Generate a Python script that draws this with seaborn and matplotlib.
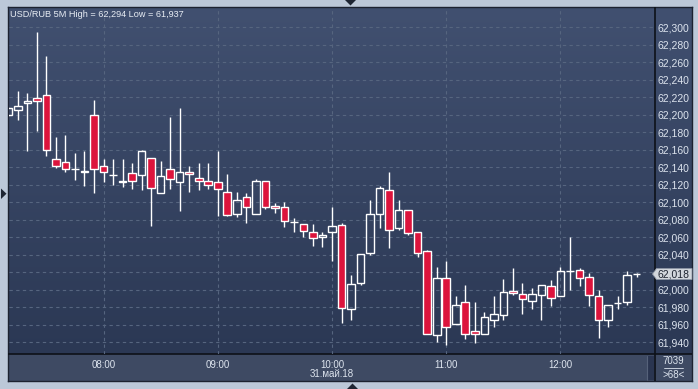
import numpy as np
import pandas as pd
import matplotlib
matplotlib.use("Agg")
import matplotlib.pyplot as plt
import seaborn as sns
from matplotlib.patches import Rectangle, Polygon
from matplotlib.colors import LinearSegmentedColormap

# ---------------- data (USD/RUB, 5-minute candles, 31 May 2018) ----------------
start_time = "2018-05-31 07:10"
open_ = [62.199, 62.205, 62.213, 62.219, 62.222, 62.149, 62.146, 62.138, 62.134, 62.199,
         62.141, 62.131, 62.123, 62.133, 62.131, 62.150, 62.111, 62.138, 62.123, 62.135,
         62.128, 62.124, 62.123, 62.112, 62.086, 62.106, 62.087, 62.124, 62.096, 62.094,
         62.077, 62.075, 62.066, 62.060, 62.066, 62.074, 61.978, 62.008, 62.042, 62.087,
         62.114, 62.070, 62.091, 62.066, 62.044, 61.948, 62.013, 61.961, 61.986, 61.953,
         61.949, 61.966, 61.971, 61.999, 61.995, 61.987, 61.994, 62.004, 61.993, 62.022,
         62.023, 62.015, 61.993, 61.965, 61.985, 61.986, 62.018]
high = [62.209, 62.227, 62.225, 62.294, 62.267, 62.174, 62.177, 62.156, 62.158, 62.217,
        62.149, 62.149, 62.149, 62.145, 62.160, 62.150, 62.147, 62.197, 62.208, 62.141,
        62.145, 62.145, 62.158, 62.132, 62.112, 62.110, 62.127, 62.124, 62.099, 62.100,
        62.082, 62.075, 62.075, 62.066, 62.095, 62.076, 62.017, 62.041, 62.103, 62.119,
        62.135, 62.103, 62.091, 62.066, 62.045, 62.026, 62.033, 61.993, 62.006, 61.986,
        61.975, 61.993, 62.012, 62.025, 62.008, 62.002, 62.006, 62.011, 62.026, 62.060,
        62.025, 62.019, 62.000, 61.983, 61.993, 62.022, 62.019]
low = [62.198, 62.194, 62.158, 62.181, 62.153, 62.139, 62.135, 62.125, 62.118, 62.110,
       62.123, 62.120, 62.117, 62.115, 62.114, 62.073, 62.111, 62.115, 62.090, 62.112,
       62.114, 62.115, 62.084, 62.084, 62.083, 62.076, 62.086, 62.092, 62.088, 62.072,
       62.066, 62.060, 62.050, 62.049, 62.033, 61.962, 61.966, 62.006, 62.040, 62.071,
       62.048, 62.068, 62.062, 62.037, 61.949, 61.940, 61.937, 61.961, 61.944, 61.939,
       61.949, 61.957, 61.965, 61.994, 61.972, 61.978, 61.965, 61.981, 61.993, 62.000,
       62.004, 61.981, 61.945, 61.958, 61.978, 61.983, 62.015]
close = [62.208, 62.210, 62.216, 62.216, 62.160, 62.141, 62.138, 62.138, 62.136, 62.138,
         62.135, 62.131, 62.124, 62.124, 62.158, 62.116, 62.130, 62.127, 62.134, 62.132,
         62.124, 62.120, 62.115, 62.085, 62.103, 62.094, 62.124, 62.094, 62.093, 62.079,
         62.077, 62.067, 62.059, 62.063, 62.073, 61.979, 62.007, 62.041, 62.086, 62.116,
         62.068, 62.091, 62.065, 62.042, 61.949, 62.014, 61.958, 61.983, 61.950, 61.950,
         61.969, 61.972, 61.998, 61.996, 61.989, 61.995, 62.005, 61.991, 62.021, 62.022,
         62.014, 61.994, 61.966, 61.983, 61.985, 62.017, 62.018]
y_ticks = [61.94, 61.96, 61.98, 62.00, 62.02, 62.04, 62.06, 62.08, 62.10, 62.12,
           62.14, 62.16, 62.18, 62.20, 62.22, 62.24, 62.26, 62.28, 62.30]
title_text = "USD/RUB 5M High = 62,294 Low = 61,937"
date_label = "31.май.18"
corner_top = "7039"
corner_bottom = ">68<"

# ---------------- style ----------------
sns.set_theme(style="dark")
plt.rcParams['font.family'] = ['Liberation Sans', 'DejaVu Sans']

W, H = 698, 389
fig = plt.figure(figsize=(W / 100, H / 100), dpi=100, facecolor='#bcc8d8')

TXT = '#dde4ee'
RED = '#dc143c'

# background panel (plot area + right scale + bottom time strip)
bg = fig.add_axes([8 / W, 1 - 381 / H, (692 - 8) / W, (381 - 7) / H], zorder=0)
bg.set_xlim(8, 692)
bg.set_ylim(381, 7)
bg.set_xticks([]); bg.set_yticks([])
for s in bg.spines.values():
    s.set_color('#1c2230'); s.set_linewidth(1.0)
grad = np.linspace(0, 1, 256).reshape(-1, 1)
cmap = LinearSegmentedColormap.from_list('g', ['#415070', '#2b3854'])
bg.imshow(grad, cmap=cmap, extent=[8, 692, 354, 7], aspect='auto', zorder=0)
bg.add_patch(Rectangle((8, 354), 684, 27, facecolor='#3e4a63', edgecolor='none', zorder=1))
bg.add_patch(Rectangle((648, 356), 6, 24, facecolor='#2a3550', edgecolor='none', zorder=2))
bg.plot([646.5, 646.5], [356, 380], color='#56627a', lw=0.8, zorder=2)
bg.plot([655, 655], [7, 381], color='#0d1118', lw=1.2, zorder=3)
bg.plot([8, 692], [354, 354], color='#0d1118', lw=1.2, zorder=3)

# main chart axes
ax = fig.add_axes([9 / W, 1 - 354 / H, (655 - 9) / W, (354 - 8) / H], zorder=1)
ax.set_facecolor('none')
for s in ax.spines.values():
    s.set_visible(False)

n = len(open_)
times = pd.date_range(start_time, periods=n, freq="5min")
x = np.arange(n)
o = np.array(open_); c = np.array(close); h = np.array(high); l = np.array(low)
body_lo = np.minimum(o, c)
body_hi = np.maximum(o, c)
down = c < o

ax.vlines(x, body_hi, h, color='white', lw=1.0, zorder=3)
ax.vlines(x, l, body_lo, color='white', lw=1.0, zorder=3)
ax.bar(x[down], (body_hi - body_lo)[down], bottom=body_lo[down], width=0.8,
       color=RED, edgecolor='white', linewidth=1.0, zorder=4)
ax.bar(x[~down], (body_hi - body_lo)[~down], bottom=body_lo[~down], width=0.8,
       facecolor='none', edgecolor='white', linewidth=1.0, zorder=4)

ax.set_xlim(0.07, 67.93)
ax.set_ylim(61.9267, 62.3217)

# x ticks at full hours
hour_idx = [i for i, t in enumerate(times) if t.minute == 0]
ax.set_xticks(hour_idx)
ax.set_xticklabels([times[i].strftime("%H:%M") for i in hour_idx])
ax.tick_params(axis='x', length=0, pad=4, labelsize=7, colors=TXT)
date_i = [i for i in hour_idx if times[i].hour == 10][0]
ax.text(date_i, -0.058, date_label, transform=ax.get_xaxis_transform(),
        ha='center', va='center', fontsize=7, color=TXT)

# y ticks on the right
last = close[-1]
ax.yaxis.tick_right()
ax.set_yticks(y_ticks)
ax.set_yticklabels(["" if abs(v - last) < 0.012 else f"{v:.3f}".replace('.', ',') for v in y_ticks])
ax.tick_params(axis='y', length=0, pad=2, labelsize=7.5, colors=TXT)

ax.grid(True, color='#56657f', linestyle=(0, (3, 3)), linewidth=0.8, zorder=1)

# overlay for labels/decorations in pixel coordinates
ov = fig.add_axes([0, 0, 1, 1], zorder=5)
ov.set_xlim(0, W); ov.set_ylim(H, 0)
ov.axis('off')
ov.patch.set_alpha(0)

ov.text(10, 14.5, title_text, ha='left', va='center', fontsize=6.6, color='#e8edf4')

# last price marker
fig.canvas.draw()
yd = ax.transData.transform((0, last))[1]
ypx = H - yd
ov.add_patch(Polygon([(652.5, ypx), (656.5, ypx - 5.5), (692, ypx - 5.5), (692, ypx + 5.5), (656.5, ypx + 5.5)],
                     closed=True, facecolor='#d2d6dc', edgecolor='#8d96a6', lw=0.6))
ov.text(658, ypx + 0.5, f"{last:.3f}".replace('.', ','), ha='left', va='center', fontsize=7.5, color='#1d2330')

# corner box
ov.text(673.5, 361, corner_top, ha='center', va='center', fontsize=7, color=TXT)
ov.plot([664, 683], [368, 368], color=TXT, lw=0.6)
ov.text(673.5, 375, corner_bottom, ha='center', va='center', fontsize=7, color=TXT)

# scroll arrows
ov.add_patch(Polygon([(345, 0), (356, 0), (350.5, 5.5)], closed=True, facecolor='#1e2533', edgecolor='none'))
ov.add_patch(Polygon([(347, 389), (358, 389), (352.5, 383.5)], closed=True, facecolor='#1e2533', edgecolor='none'))
ov.add_patch(Polygon([(1, 188.5), (1, 199), (6.5, 193.7)], closed=True, facecolor='#1e2533', edgecolor='none'))

fig.savefig("out.png", dpi=100, facecolor=fig.get_facecolor())
